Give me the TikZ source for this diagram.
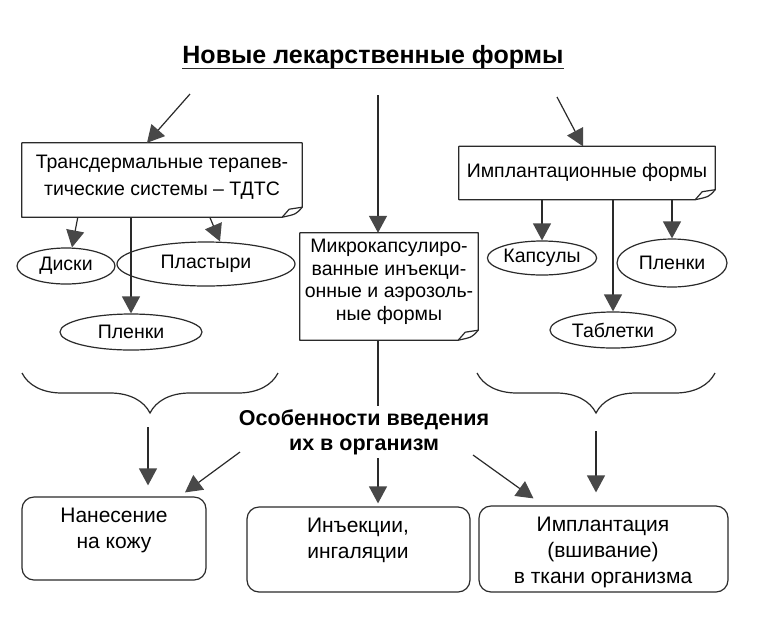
\documentclass[tikz,border=0pt]{standalone}
\usepackage{fontspec}
\setmainfont{Liberation Sans}
\usetikzlibrary{arrows.meta,shapes.geometric,decorations.pathreplacing,calc}
\definecolor{ln}{HTML}{2A2A2A}
\definecolor{ah}{HTML}{484848}
\newcommand\foldoutline[1]{%
  \draw[boxline] (#1.north west) -- (#1.north east) -- ([yshift=10pt]#1.south east)
     .. controls ([xshift=-6pt,yshift=3pt]#1.south east) .. ([xshift=-20pt]#1.south east)
     -- (#1.south west) -- cycle;
  \draw[boxline] ([xshift=-20pt]#1.south east) -- ([xshift=-13pt,yshift=8pt]#1.south east) -- ([yshift=10pt]#1.south east);}
\begin{document}
\begin{tikzpicture}[x=1pt,y=-1pt,
  arr/.style={draw=ln, line width=1.2pt, -{Triangle[length=17pt,width=18pt,color=ah]}},
  boxline/.style={draw=ln, line width=1.2pt, line join=round},
  txt/.style={font=\fontsize{19.5}{24}\selectfont, align=center, inner sep=0pt, text=black},
  btxt/.style={font=\fontsize{21}{26}\selectfont, align=center, inner sep=0pt, text=black},
  oval/.style={ellipse, draw=ln, line width=1.2pt, font=\fontsize{19.5}{24}\selectfont, inner sep=0pt},
  notebox/.style={draw=none, inner sep=0pt},
  roundbox/.style={draw=ln, line width=1.2pt, rounded corners=12pt, inner sep=0pt},
  brc/.style={draw=ln, line width=1.2pt, decorate, decoration={brace, amplitude=40pt, mirror}}]
\useasboundingbox (0,0) rectangle (759,619);
\fill[white] (0,0) rectangle (759,619);

% title
\node[font=\bfseries\fontsize{25}{30}\selectfont, inner sep=0pt] (title) at (373,57) {Новые лекарственные формы};
\draw[line width=1.8pt, ln] ([yshift=-5pt]title.base west) -- ([yshift=-5pt]title.base east);

% upper boxes
\node[notebox, minimum width=280pt, minimum height=74pt] (tdtsbox) at (162,180) {};
\foldoutline{tdtsbox}
\node[txt, font=\fontsize{19.5}{27}\selectfont] (tdts) at (162,177) {Трансдермальные терапев-\\тические системы – ТДТС};

\node[notebox, minimum width=256pt, minimum height=53pt] (implbox) at (587,173) {};
\foldoutline{implbox}
\node[txt] (impl) at (587,172) {Имплантационные формы};

\node[notebox, minimum width=178pt, minimum height=107pt] (microbox) at (389,286.5) {};
\foldoutline{microbox}
\node[txt, font=\fontsize{19.5}{22.5}\selectfont] (micro) at (389,282) {Микрокапсулиро-\\ванные инъекци-\\онные и аэрозоль-\\ные формы};

% ellipses
\node[oval, minimum width=98pt, minimum height=36pt] (diski) at (66,266) {Диски};
\node[oval, minimum width=178pt, minimum height=44pt] (plast) at (206,264) {Пластыри};
\node[oval, minimum width=142pt, minimum height=36pt] (plen1) at (131,332) {Пленки};
\node[oval, minimum width=108pt, minimum height=34pt] (kaps) at (542,258) {Капсулы};
\node[oval, minimum width=110pt, minimum height=48pt] (plen2) at (672,263) {Пленки};
\node[oval, minimum width=126pt, minimum height=36pt] (tabl) at (613,330) {Таблетки};

% braces
\draw[brc] (22,373) -- (278,373);
\draw[brc] (477,373) -- (715,373);
\coordinate (lb) at (148,427);
\coordinate (rb) at (596,431);

% bottom boxes
\node[roundbox, minimum width=184pt, minimum height=83pt] (nanbox) at (114,538.5) {};
\node[btxt] (nan) at (114,530) {Нанесение\\на кожу};
\node[roundbox, minimum width=223pt, minimum height=85pt] (injbox) at (358.5,549.5) {};
\node[btxt] (inj) at (358,540) {Инъекции,\\ингаляции};
\node[roundbox, minimum width=249pt, minimum height=86pt] (implbbox) at (603.5,549) {};
\node[btxt] (implb) at (603,552) {Имплантация\\(вшивание)\\в ткани организма};

% arrows from title
\coordinate (s1) at (190,94);
\coordinate (s2) at (378,95);
\coordinate (s3) at (557,97);
\draw[arr] (s1) -- ([xshift=-15pt]tdtsbox.north);
\draw[arr] (s2) -- (s2 |- microbox.north);
\draw[arr] (s3) -- ([xshift=-4pt]implbox.north);

% arrows from upper boxes
\draw[arr] ([xshift=56pt]tdtsbox.south west) -- ([xshift=6pt]diski.north);
\draw[arr] (tdtsbox.south -| plen1.north) -- (plen1.north);
\draw[arr] ([xshift=188pt]tdtsbox.south west) -- ([xshift=14pt]plast.north);
\draw[arr] (implbox.south -| kaps.north) -- (kaps.north);
\draw[arr] (implbox.south -| tabl.north) -- (tabl.north);
\draw[arr] (implbox.south -| plen2.north) -- (plen2.north);

% arrows to bottom boxes
\coordinate (mb) at ([xshift=-11pt]microbox.south);
\draw[arr, shorten >=3pt] (mb) -- (mb |- injbox.north);
\draw[arr, shorten >=11pt] (lb) -- (lb |- nanbox.north);
\draw[arr, shorten >=13pt] (rb) -- (rb |- implbbox.north);

% central label
\node[font=\bfseries\fontsize{21.5}{25}\selectfont, align=center, fill=white, inner xsep=2pt, inner ysep=3pt] (osob) at (364,432) {Особенности введения\\их в организм};
\coordinate (o1) at (240,452);
\coordinate (o2) at (473,455);
\draw[arr] (o1) -- ([xshift=71pt,yshift=4pt]nanbox.north);
\draw[arr] (o2) -- ([xshift=-70pt,yshift=7pt]implbbox.north);
\end{tikzpicture}
\end{document}
